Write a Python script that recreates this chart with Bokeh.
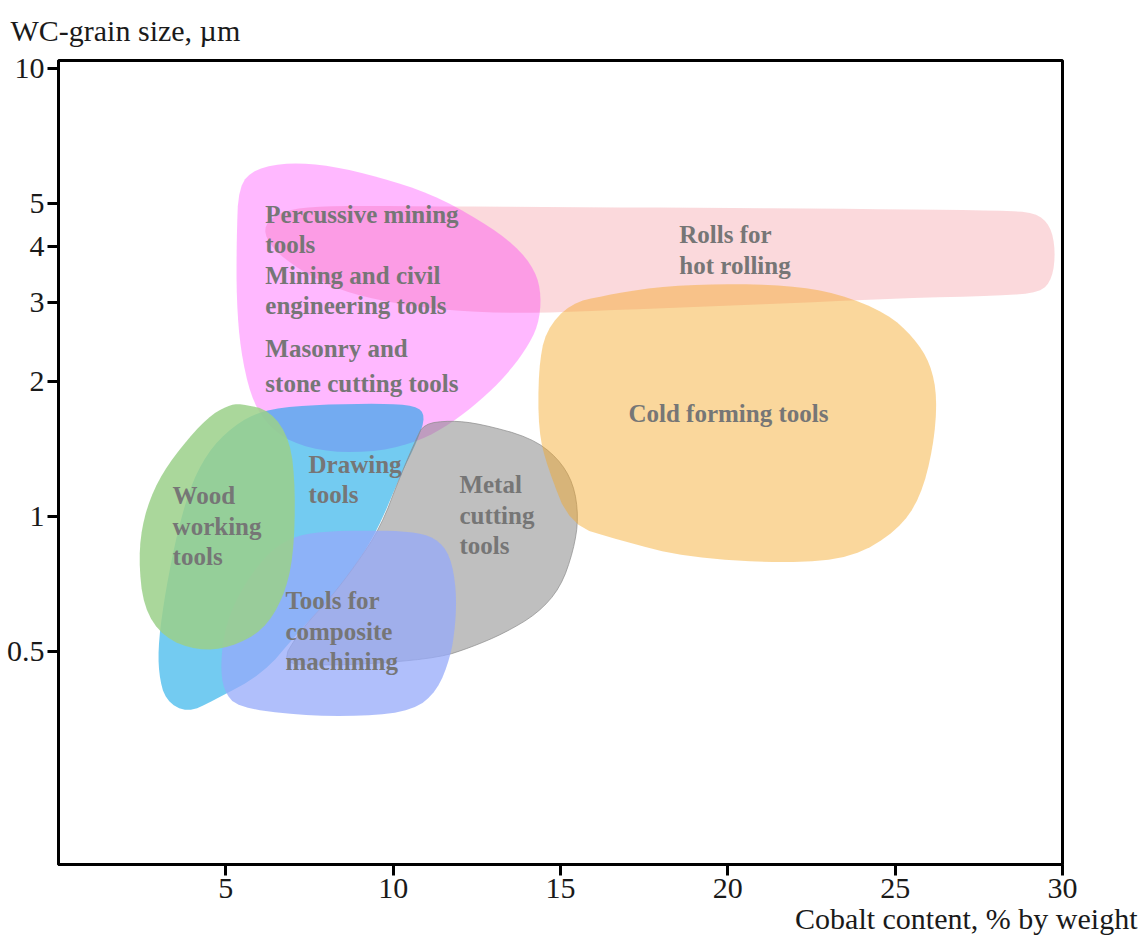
import math

from bokeh.plotting import figure
from bokeh.models import Range1d, FixedTicker, CustomJSTickFormatter, Title, ColumnDataSource
from bokeh.core.properties import value
from bokeh.embed import file_html
from bokeh.resources import INLINE

# Application fields of cemented carbides:
# outlines given as (cobalt content, wt %) / (WC grain size, µm)
ROLLS_CO = [6.10, 6.48, 7.23, 8.72, 11.71, 16.19, 20.68, 25.16, 28.14, 29.19, 29.64, 29.79, 29.70,
            29.34, 28.14, 25.16, 22.17, 19.18, 16.19, 13.80, 11.71, 9.92, 8.43, 7.23, 6.39]
ROLLS_WC = [4.39, 4.72, 4.90, 4.94, 4.92, 4.90, 4.88, 4.85, 4.82, 4.77, 4.46, 3.92, 3.40,
            3.16, 3.11, 3.07, 3.00, 2.94, 2.88, 2.84, 2.88, 3.00, 3.19, 3.54, 3.96]

MINING_CO = [5.38, 5.89, 6.93, 8.13, 9.62, 11.11, 12.61, 13.65, 14.25, 14.43, 14.34, 13.95,
             13.36, 12.61, 11.71, 10.82, 9.62, 8.13, 6.93, 6.18, 5.74, 5.44, 5.32, 5.32]
MINING_WC = [5.48, 5.98, 6.17, 6.07, 5.71, 5.26, 4.58, 4.03, 3.54, 3.11, 2.67, 2.35,
             2.06, 1.815, 1.61, 1.478, 1.397, 1.39, 1.463, 1.62, 1.86, 2.35, 3.03, 4.13]

DRAWING_CO = [6.33, 7.83, 9.62, 10.67, 10.97, 10.73, 10.22, 9.53, 8.87, 8.13, 7.08, 6.12,
              4.63, 3.85, 3.20, 2.99, 2.99, 3.20, 3.56, 4.00, 4.60, 5.44]
DRAWING_WC = [1.742, 1.778, 1.787, 1.769, 1.680, 1.478, 1.235, 0.931, 0.777, 0.659, 0.543, 0.446,
              0.388, 0.365, 0.388, 0.446, 0.529, 0.684, 0.931, 1.203, 1.44, 1.638]

METAL_CO = [10.91, 11.71, 12.61, 14.10, 14.91, 15.39, 15.54, 15.39, 15.00, 14.31, 13.30, 12.31,
            11.41, 9.62, 7.83, 6.63, 7.23, 8.13, 8.87, 9.62, 10.22, 10.67]
METAL_WC = [1.61, 1.638, 1.61, 1.501, 1.354, 1.185, 0.995, 0.840, 0.694, 0.607, 0.548, 0.510,
            0.485, 0.470, 0.465, 0.470, 0.557, 0.659, 0.777, 0.945, 1.235, 1.478]

COMPOSITE_CO = [6.93, 7.83, 9.32, 10.52, 11.26, 11.71, 11.89, 11.86, 11.71, 11.32, 10.61, 9.11,
                7.14, 5.35, 4.93, 4.84, 4.99, 5.44, 6.18]
COMPOSITE_WC = [0.898, 0.926, 0.931, 0.926, 0.898, 0.818, 0.684, 0.571, 0.485, 0.409, 0.369, 0.358,
                0.360, 0.375, 0.409, 0.470, 0.571, 0.684, 0.818]

WOOD_CO = [5.44, 6.33, 6.93, 7.08, 7.02, 6.72, 6.12, 5.14, 4.15, 3.14, 2.54, 2.39, 2.54,
           2.96, 3.65, 4.45, 5.05]
WOOD_WC = [1.787, 1.725, 1.478, 1.143, 0.810, 0.659, 0.557, 0.510, 0.502, 0.537, 0.626, 0.810, 0.995,
           1.203, 1.426, 1.663, 1.769]

COLD_CO = [15.30, 16.28, 17.78, 19.78, 21.78, 23.27, 24.77, 25.55, 26.05, 26.26, 26.14, 25.75,
           25.07, 23.75, 21.78, 18.79, 16.79, 15.30, 14.61, 14.34, 14.34, 14.55]
COLD_WC = [2.99, 3.11, 3.25, 3.31, 3.28, 3.15, 2.84, 2.51, 2.20, 1.84, 1.426, 1.10,
           0.931, 0.810, 0.785, 0.810, 0.884, 0.955, 1.286, 1.556, 2.12, 2.60]

# Field names, one entry per printed line, with their anchor (left end)
LABEL_TEXT = ["Percussive mining", "tools", "Mining  and civil", "engineering tools",
              "Masonry and", "stone cutting tools",
              "Rolls for", "hot rolling",
              "Cold forming tools",
              "Drawing", "tools",
              "Wood", "working", "tools",
              "Metal", "cutting", "tools",
              "Tools for", "composite", "machining"]
LABEL_CO = [6.18, 6.18, 6.18, 6.18, 6.18, 6.18,
            18.55, 18.55,
            17.03,
            7.47, 7.47,
            3.41, 3.41, 3.41,
            11.98, 11.98, 11.98,
            6.78, 6.78, 6.78]
LABEL_WC = [4.72, 4.05, 3.45, 2.96, 2.37, 1.981,
            4.26, 3.63,
            1.698,
            1.306, 1.120,
            1.114, 0.950, 0.814,
            1.179, 1.005, 0.862,
            0.650, 0.554, 0.475]

X_TICKS = [5, 10, 15, 20, 25, 30]
Y_TICKS = [0.5, 1, 2, 3, 4, 5, 10]

SERIF = "Liberation Serif"


def rounded_outline(xs, ys, passes=2):
    """Round off the corners of a closed outline (corner cutting in
    linear-x / log-y space, so it follows the axes' own scaling)."""
    pts = [(x, math.log10(y)) for x, y in zip(xs, ys)]
    for _ in range(passes):
        out = []
        n = len(pts)
        for i in range(n):
            (x0, y0), (x1, y1) = pts[i], pts[(i + 1) % n]
            out.append((0.75 * x0 + 0.25 * x1, 0.75 * y0 + 0.25 * y1))
            out.append((0.25 * x0 + 0.75 * x1, 0.25 * y0 + 0.75 * y1))
        pts = out
    return [p[0] for p in pts], [10 ** p[1] for p in pts]


p = figure(width=1143, height=947,
           x_range=Range1d(0, 30), y_range=Range1d(0.1672, 10.42),
           y_axis_type="log",
           output_backend="svg", toolbar_location=None,
           min_border_left=58, min_border_right=81,
           min_border_top=60, min_border_bottom=83)

p.background_fill_color = "white"
p.border_fill_color = "white"
p.xgrid.visible = False
p.ygrid.visible = False
p.outline_line_color = "black"
p.outline_line_width = 3

p.xaxis.ticker = FixedTicker(ticks=X_TICKS)
p.yaxis.ticker = FixedTicker(ticks=Y_TICKS)
p.yaxis.formatter = CustomJSTickFormatter(code="return String(tick);")
for ax in (p.xaxis, p.yaxis):
    ax.axis_line_color = "black"
    ax.axis_line_width = 3
    ax.major_tick_line_color = "black"
    ax.major_tick_line_width = 3
    ax.major_tick_in = 0
    ax.major_tick_out = 11
    ax.minor_tick_line_color = None
    ax.major_label_standoff = 3
    ax.major_label_text_font = SERIF
    ax.major_label_text_font_size = "30px"
    ax.major_label_text_color = "#1a1a1a"

# translucent regions, back to front
fields = [
    (ROLLS_CO, ROLLS_WC, (240, 120, 130), 0.28, None),
    (MINING_CO, MINING_WC, (255, 0, 255), 0.28, None),
    (DRAWING_CO, DRAWING_WC, (0, 160, 230), 0.55, None),
    (METAL_CO, METAL_WC, (128, 128, 128), 0.5, "#8c8c8c"),
    (COMPOSITE_CO, COMPOSITE_WC, (150, 170, 250), 0.75, None),
    (WOOD_CO, WOOD_WC, (155, 208, 137), 0.85, None),
    (COLD_CO, COLD_WC, (245, 166, 35), 0.45, None),
]
for xs, ys, rgb, alpha, edge in fields:
    sx, sy = rounded_outline(xs, ys)
    p.patch(sx, sy, fill_color="#%02x%02x%02x" % rgb, fill_alpha=alpha,
            line_color=edge, line_width=1.0, line_alpha=0.7 if edge else 0)

labels = ColumnDataSource(dict(x=LABEL_CO, y=LABEL_WC, text=LABEL_TEXT))
p.text(x="x", y="y", text="text", source=labels,
       text_font=value(SERIF), text_font_style="bold", text_font_size="25px",
       text_color="#767676", text_align="left", text_baseline="middle")

# axis titles: grain size over the top-left corner, cobalt content under the right end
p.add_layout(Title(text="WC-grain size, µm", align="left", offset=-48, standoff=24,
                   vertical_align="top",
                   text_font=SERIF, text_font_size="30px", text_font_style="normal",
                   text_color="#1a1a1a"), "above")
p.add_layout(Title(text="Cobalt content, % by weight", align="right", offset=-75, standoff=0,
                   vertical_align="middle",
                   text_font=SERIF, text_font_size="30px", text_font_style="normal",
                   text_color="#1a1a1a"), "below")

open("out.html", "w").write(file_html(p, INLINE, "Cemented carbide application fields"))
